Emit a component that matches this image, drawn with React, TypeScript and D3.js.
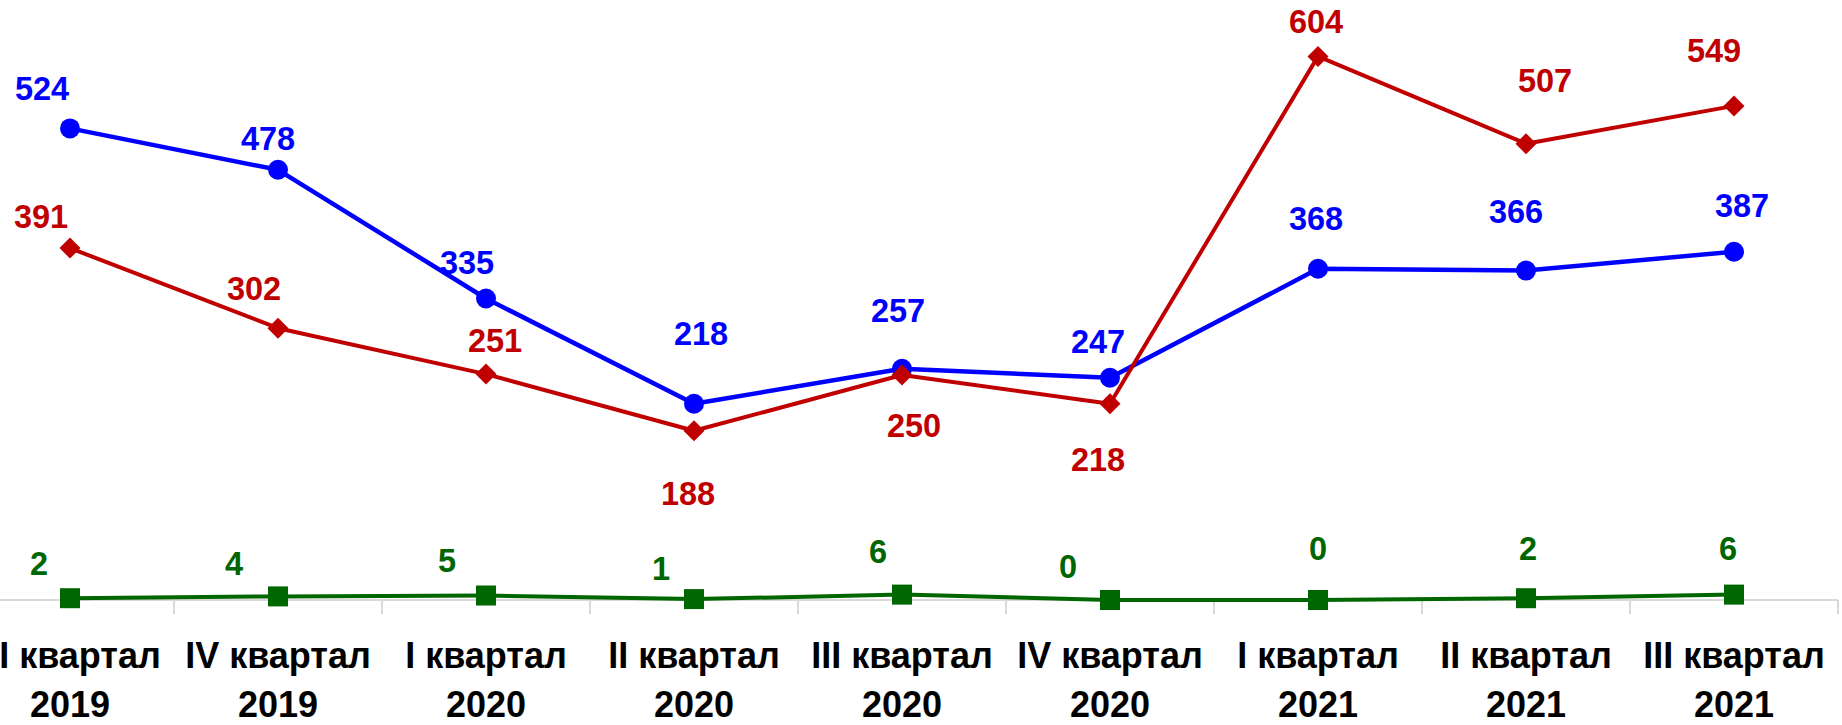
import React from "react";
import * as d3 from "d3";

const categories = [
  ["III квартал", "2019"],
  ["IV квартал", "2019"],
  ["I квартал", "2020"],
  ["II квартал", "2020"],
  ["III квартал", "2020"],
  ["IV квартал", "2020"],
  ["I квартал", "2021"],
  ["II квартал", "2021"],
  ["III квартал", "2021"],
];

const blueValues = [524, 478, 335, 218, 257, 247, 368, 366, 387];
const redValues = [391, 302, 251, 188, 250, 218, 604, 507, 549];
const greenValues = [2, 4, 5, 1, 6, 0, 0, 2, 6];

// label offsets (dx, dy of baseline relative to marker)
const blueLabelOffsets = [
  [-28, -28], [-10, -20], [-19, -25], [7, -59], [-4, -47], [-12, -25], [-2, -39], [-10, -48], [8, -35],
];
const redLabelOffsets = [
  [-29, -20], [-24, -28], [9, -22], [-6, 74], [12, 62], [-12, 67], [-2, -23], [19, -52], [-20, -44],
];
const greenLabelOffsets = [
  [-31, -23], [-44, -21], [-39, -24], [-33, -19], [-24, -32], [-42, -22], [0, -40], [2, -38], [-6, -35],
];

const W = 1842;
const H = 725;

export default function App() {
  const x = d3
    .scaleBand<number>()
    .domain(d3.range(categories.length))
    .range([-34, 1838])
    .paddingInner(0)
    .paddingOuter(0);
  const cx = (i: number) => (x(i) as number) + x.bandwidth() / 2;
  const y = d3.scaleLinear().domain([0, 650]).range([600, 15]);
  const axisY = y(0);

  const line = d3
    .line<number>()
    .x((_, i) => cx(i))
    .y((d) => y(d));

  const series = [
    { values: blueValues, color: "#0000FF", offsets: blueLabelOffsets, marker: "circle", width: 4.5 },
    { values: redValues, color: "#C00000", offsets: redLabelOffsets, marker: "diamond", width: 4 },
    { values: greenValues, color: "#006600", offsets: greenLabelOffsets, marker: "square", width: 4 },
  ];

  const font = "'Liberation Sans', Arial, sans-serif";

  const boundaries = d3.range(categories.length + 1).map((i) =>
    i < categories.length ? (x(i) as number) : (x(categories.length - 1) as number) + x.bandwidth()
  );

  return (
    <svg
      width={W}
      height={H}
      style={{ position: "absolute", left: 0, top: 0, background: "#fff" }}
    >
      <rect x={0} y={0} width={W} height={H} fill="#fff" />
      <line x1={0} x2={boundaries[boundaries.length - 1]} y1={axisY} y2={axisY} stroke="#d9d9d9" strokeWidth={2} />
      {boundaries.map((b, i) => (
        <line key={i} x1={b} x2={b} y1={axisY} y2={axisY + 14} stroke="#d9d9d9" strokeWidth={2} />
      ))}
      {categories.map((c, i) => (
        <text
          key={i}
          x={cx(i)}
          textAnchor="middle"
          fontFamily={font}
          fontWeight="bold"
          fontSize={36}
          fill="#000"
        >
          <tspan x={cx(i)} y={668}>{c[0]}</tspan>
          <tspan x={cx(i)} y={717}>{c[1]}</tspan>
        </text>
      ))}
      {series.map((s, si) => (
        <g key={si}>
          <path d={line(s.values) || ""} fill="none" stroke={s.color} strokeWidth={s.width} strokeLinejoin="round" />
          {s.values.map((v, i) => {
            const px = cx(i);
            const py = y(v);
            if (s.marker === "circle") return <circle key={i} cx={px} cy={py} r={10} fill={s.color} />;
            if (s.marker === "diamond")
              return (
                <path
                  key={i}
                  d={`M${px},${py - 10.5}L${px + 10.5},${py}L${px},${py + 10.5}L${px - 10.5},${py}Z`}
                  fill={s.color}
                />
              );
            return <rect key={i} x={px - 10} y={py - 10} width={20} height={20} fill={s.color} />;
          })}
          {s.values.map((v, i) => (
            <text
              key={"t" + i}
              x={cx(i) + s.offsets[i][0]}
              y={y(v) + s.offsets[i][1]}
              textAnchor="middle"
              fontFamily={font}
              fontWeight="bold"
              fontSize={32.5}
              fill={s.color}
            >
              {v}
            </text>
          ))}
        </g>
      ))}
    </svg>
  );
}
